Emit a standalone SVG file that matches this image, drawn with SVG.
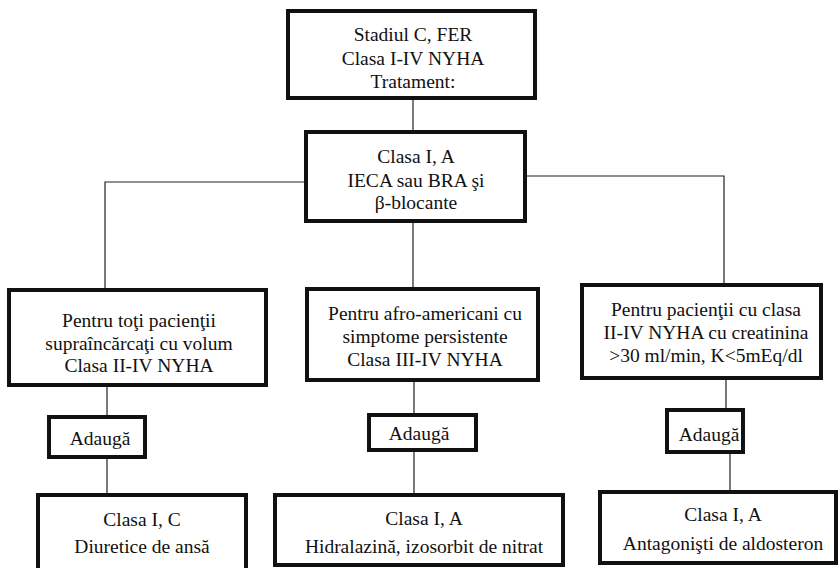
<svg xmlns="http://www.w3.org/2000/svg" width="839" height="568" viewBox="0 0 839 568">
<style>
.box{fill:#fff;stroke:#111;stroke-width:4}
.ln{fill:none;stroke:#222;stroke-width:1.2}
text{font-family:"Liberation Serif","Times New Roman",serif;font-size:19.5px;fill:#111;text-anchor:middle}
</style>
<rect width="839" height="568" fill="#fff"/>
<g id="connectors">
<path class="ln" d="M413 100V131"/>
<path class="ln" d="M413 223V288"/>
<path class="ln" d="M305 182H105V289"/>
<path class="ln" d="M526 176H724V284"/>
<path class="ln" d="M107 387V416M107 459V494"/>
<path class="ln" d="M414 382V414M414 452V494"/>
<path class="ln" d="M726 380V409M730 454V491"/>
</g>
<g id="n-top"><rect class="box" x="288" y="11" width="247" height="87"/>
<text x="413" y="41">Stadiul C, FER</text><text x="413" y="65">Clasa I-IV NYHA</text><text x="413" y="88">Tratament:</text></g>
<g id="n-clasa1a"><rect class="box" x="306" y="132" width="219" height="89"/>
<text x="416" y="163">Clasa I, A</text><text x="416" y="187">IECA sau BRA şi</text><text x="416" y="209">β-blocante</text></g>
<g id="n-left"><rect class="box" x="9" y="290" width="257" height="95"/>
<text x="139" y="327">Pentru toţi pacienţii</text><text x="139" y="349.5">supraîncărcaţi cu volum</text><text x="139" y="372">Clasa II-IV NYHA</text></g>
<g id="n-mid"><rect class="box" x="307" y="289" width="231" height="91"/>
<text x="425" y="320">Pentru afro-americani cu</text><text x="425" y="343">simptome persistente</text><text x="425" y="366">Clasa III-IV NYHA</text></g>
<g id="n-right"><rect class="box" x="582" y="285" width="239" height="93"/>
<text x="706" y="316">Pentru pacienţii cu clasa</text><text x="706" y="339">II-IV NYHA cu creatinina</text><text x="706" y="362">&gt;30 ml/min, K&lt;5mEq/dl</text></g>
<g id="n-add-left"><rect class="box" x="49" y="417" width="96" height="40"/><text x="100" y="445">Adaugă</text></g>
<g id="n-add-mid"><rect class="box" x="369" y="415" width="107" height="35"/><text x="419" y="440">Adaugă</text></g>
<g id="n-add-right"><rect class="box" x="667" y="410" width="76" height="42"/><text x="709" y="441">Adaugă</text></g>
<g id="n-bot-left"><rect class="box" x="38" y="495" width="208" height="76"/>
<text x="142" y="526">Clasa I, C</text><text x="142" y="553">Diuretice de ansă</text></g>
<g id="n-bot-mid"><rect class="box" x="275" y="495" width="288" height="70"/>
<text x="424" y="525">Clasa I, A</text><text x="424" y="553">Hidralazină, izosorbit de nitrat</text></g>
<g id="n-bot-right"><rect class="box" x="600" y="492" width="236" height="71"/>
<text x="723" y="521">Clasa I, A</text><text x="723" y="550">Antagonişti de aldosteron</text></g>
</svg>
